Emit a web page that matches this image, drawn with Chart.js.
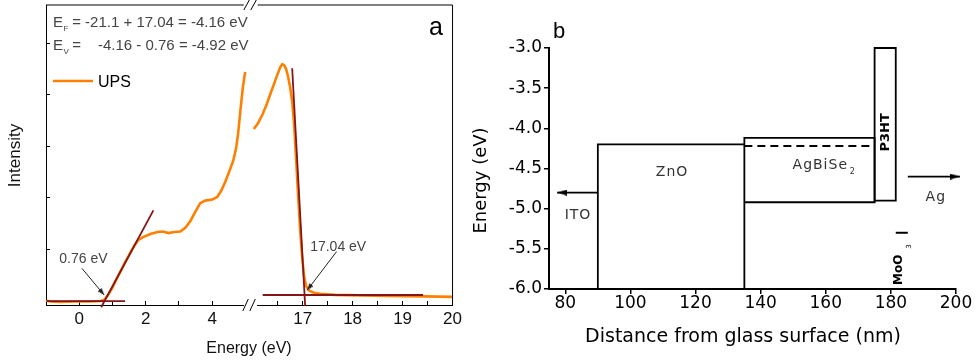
<!DOCTYPE html>
<html lang="en">
<head>
<meta charset="UTF-8">
<script src="https://cdn.jsdelivr.net/npm/chart.js"></script>
<title>UPS spectrum and band diagram</title>
<style>
  body { margin: 0; background: #fff; width: 976px; height: 363px; position: relative; overflow: hidden; }
  canvas { position: absolute; top: 0; }
</style>
</head>
<body>
<canvas id="upsLow" width="470" height="363" style="left:0"></canvas>
<canvas id="upsHigh" width="470" height="363" style="left:0"></canvas>
<canvas id="levels" width="506" height="363" style="left:470px"></canvas>
<script>
// ---- (a) UPS spectrum, split energy axis ----
// valence band onset side
const upsLowEnergy = [-0.99, -0.87, -0.57, -0.12, 0.33, 0.63, 0.75, 0.87, 0.99, 1.11, 1.23, 1.38, 1.53, 1.65,
  1.77, 1.92, 2.14, 2.35, 2.53, 2.68, 2.86, 3.04, 3.19, 3.34, 3.49, 3.64, 3.79, 4.00, 4.15, 4.27, 4.39, 4.51,
  4.63, 4.72, 4.78, 4.84, 4.92, 4.99];
const upsLowIntensity = [0.00, -0.02, -0.03, -0.02, -0.02, -0.01, 0.01, 0.11, 0.24, 0.40, 0.55, 0.74, 0.92, 1.06,
  1.17, 1.23, 1.29, 1.33, 1.34, 1.31, 1.33, 1.34, 1.41, 1.54, 1.72, 1.89, 1.94, 1.96, 2.01, 2.13, 2.30, 2.50,
  2.71, 2.96, 3.25, 3.64, 4.13, 4.44];
// secondary electron cutoff side
const upsHighEnergy = [16.02, 16.10, 16.20, 16.28, 16.36, 16.44, 16.50, 16.55, 16.59, 16.63, 16.67, 16.71, 16.75,
  16.79, 16.83, 16.87, 16.91, 16.95, 16.99, 17.03, 17.07, 17.13, 17.23, 17.35, 17.64, 18.14, 18.73, 19.43, 20.00];
const upsHighIntensity = [3.33, 3.43, 3.62, 3.81, 4.03, 4.24, 4.40, 4.53, 4.59, 4.57, 4.49, 4.34, 4.13,
  3.87, 3.41, 2.73, 2.03, 1.37, 0.84, 0.46, 0.28, 0.19, 0.15, 0.13, 0.11, 0.10, 0.09, 0.08, 0.07];

// linear fits used to read the onset (0.76 eV) and the cutoff (17.04 eV)
const onsetBaseX = [-0.97, 1.38], onsetBaseY = [-0.01, -0.01];
const onsetSlopeX = [0.66, 2.23], onsetSlopeY = [-0.13, 1.75];
const cutoffBaseX = [16.2, 19.41], cutoffBaseY = [0.107, 0.107];
const cutoffSlopeX = [16.79, 17.05], cutoffSlopeY = [4.51, -0.107];
// pointer arrows (tail -> tip)
const onsetArrowX = [0.08, 0.75], onsetArrowY = [0.625, 0.107];
const cutoffArrowX = [17.68, 17.09], cutoffArrowY = [0.95, 0.2];

const lowTicks = [-1, 0, 1, 2, 3, 4];
const highTicks = [16.5, 17, 17.5, 18, 18.5, 19, 19.5, 20];
const intensityTicks = [1, 2, 3, 4, 5];

// ---- (b) energy levels vs distance ----
const znoX = [90, 90, 135], znoY = [-6, -4.2, -4.2];
const absorberX = [135, 135, 175, 175, 135], absorberY = [-6, -4.12, -4.12, -4.92, -4.92];
const p3htX = [175, 175, 181.5, 181.5, 175], p3htY = [-4.92, -3, -3, -4.9, -4.9];
const fermiX = [135, 175], fermiY = [-4.22, -4.22];
const itoX = [90, 77.5], itoY = [-4.8, -4.8];
const agX = [185.2, 201.2], agY = [-4.6, -4.6];
const moo3X = [181.5, 185.2], moo3Y = [-5.3, -5.3];

const energyTicks = [-6, -5.75, -5.5, -5.25, -5, -4.75, -4.5, -4.25, -4, -3.75, -3.5, -3.25, -3];
const distanceTicks = [80, 100, 120, 140, 160, 180, 200];

const ARIAL = 'Arial, "Liberation Sans", sans-serif';
const DEJAVU = '"DejaVu Sans", sans-serif';
const ORANGE = '#ff8000';
const FIT_RED = '#861515';

const pairs = (xs, ys) => xs.map((x, i) => ({x, y: ys[i]}));

function arrowHead(len, half, color) {
  // tip sits on the canvas centre so the data point is the arrow tip
  const c = document.createElement('canvas');
  c.width = len * 2; c.height = half * 2;
  const g = c.getContext('2d');
  g.fillStyle = color;
  g.beginPath();
  g.moveTo(0, 0); g.lineTo(len, half); g.lineTo(0, half * 2);
  g.closePath(); g.fill();
  return c;
}

function arrowAngle(c) {
  const pts = c.chart.data.datasets[c.datasetIndex].data;
  const sx = c.chart.scales.x, sy = c.chart.scales.y;
  const a = pts[0], b = pts[pts.length - 1];
  return Math.atan2(sy.getPixelForValue(b.y) - sy.getPixelForValue(a.y),
                    sx.getPixelForValue(b.x) - sx.getPixelForValue(a.x)) * 180 / Math.PI;
}

function line(xs, ys, color, width, extra) {
  return Object.assign({
    data: pairs(xs, ys), borderColor: color, borderWidth: width,
    pointRadius: 0, tension: 0, clip: false, borderJoinStyle: 'miter'
  }, extra || {});
}

function arrow(xs, ys, color, width, head) {
  return line(xs, ys, color, width, {
    pointRadius: [0, 4], pointStyle: head, pointRotation: arrowAngle, pointBorderWidth: 0
  });
}

function text(ctx, str, x, y, font, o) {
  o = o || {};
  ctx.save();
  ctx.font = font;
  ctx.fillStyle = o.color || '#000';
  ctx.textAlign = o.align || 'left';
  ctx.textBaseline = o.baseline || 'alphabetic';
  if (o.spacing) ctx.letterSpacing = o.spacing + 'px';
  ctx.translate(x, y);
  if (o.rotate) ctx.rotate(o.rotate);
  ctx.fillText(str, 0, 0);
  ctx.restore();
}

function stroke(ctx, pts, width, color) {
  ctx.save();
  ctx.strokeStyle = color || '#000';
  ctx.lineWidth = width;
  ctx.beginPath();
  pts.forEach((p, i) => i ? ctx.lineTo(p[0], p[1]) : ctx.moveTo(p[0], p[1]));
  ctx.stroke();
  ctx.restore();
}

const smallHead = arrowHead(7, 2.5, '#222');
const bigHead = arrowHead(10, 3, '#000');

function frameScales(min, max, ticks, labelOf, yWidth) {
  return {
    x: {
      type: 'linear', min: min, max: max,
      afterBuildTicks: s => { s.ticks = ticks.map(v => ({value: v})); },
      afterFit: s => { s.height = 58; },
      ticks: { callback: labelOf, autoSkip: false, maxRotation: 0, padding: 8,
               color: '#111', font: { family: ARIAL, size: 17 } },
      grid: { drawOnChartArea: false, tickLength: -4, color: '#000', lineWidth: 1 },
      border: { color: '#000', width: 1 }
    },
    y: {
      display: yWidth > 0,
      min: -0.087, max: 5.738,
      afterBuildTicks: s => { s.ticks = intensityTicks.map(v => ({value: v})); },
      afterFit: s => { s.width = yWidth; },
      ticks: { display: false },
      grid: { drawOnChartArea: false, tickLength: -4, color: '#000', lineWidth: 1 },
      border: { color: '#000', width: 1 }
    }
  };
}

const common = {
  responsive: false, animation: false, devicePixelRatio: 1,
  plugins: { legend: { display: false }, tooltip: { enabled: false } }
};

// left half of panel a, also carries the panel texts
new Chart(document.getElementById('upsLow'), {
  type: 'line',
  data: {
    datasets: [
      arrow(onsetArrowX, onsetArrowY, '#222', 1, smallHead),
      line(onsetSlopeX, onsetSlopeY, FIT_RED, 1.8),
      line(onsetBaseX, onsetBaseY, FIT_RED, 1.8),
      line(upsLowEnergy, upsLowIntensity, ORANGE, 2.6)
    ]
  },
  options: Object.assign({}, common, {
    layout: { padding: { left: 0, top: 5, right: 470 - 243.8, bottom: 0 } },
    scales: frameScales(-1, 4.95, lowTicks, v => (v % 2 === 0 ? String(v) : ''), 46)
  }),
  plugins: [{
    id: 'panelA',
    afterDraw(chart) {
      const ctx = chart.ctx, a = chart.chartArea;
      stroke(ctx, [[a.left, a.top], [a.right, a.top]], 1);
      // axis break marks
      [0, 7].forEach(o => {
        stroke(ctx, [[a.right + o, a.top + 5], [a.right + o + 5.5, a.top - 5]], 1);
        stroke(ctx, [[a.right + o - 1, a.bottom + 6], [a.right + o + 4.5, a.bottom - 6]], 1);
      });
      const gray = '#444';
      text(ctx, 'E', 53, 27, '15px ' + ARIAL, {color: gray});
      text(ctx, 'F', 63.5, 31, '8px ' + ARIAL, {color: gray});
      text(ctx, ' = -21.1 + 17.04 = -4.16 eV', 68, 27, '15px ' + ARIAL, {color: gray});
      text(ctx, 'E', 53, 50, '15px ' + ARIAL, {color: gray});
      text(ctx, 'V', 63.5, 54, '8px ' + ARIAL, {color: gray});
      text(ctx, ' =', 68, 50, '15px ' + ARIAL, {color: gray});
      text(ctx, '-4.16 - 0.76 = -4.92 eV', 98, 50, '15px ' + ARIAL, {color: gray});
      stroke(ctx, [[53, 81], [93, 81]], 2.6, ORANGE);
      text(ctx, 'UPS', 98, 87, '16px ' + ARIAL);
      text(ctx, 'a', 429, 35, '25px ' + ARIAL);
      text(ctx, 'Energy (eV)', 249, 353, '16px ' + ARIAL, {align: 'center', color: '#111'});
      text(ctx, 'Intensity', 20, 155.5, '17px ' + ARIAL, {align: 'center', color: '#111', rotate: -Math.PI / 2});
      const sx = chart.scales.x, sy = chart.scales.y;
      text(ctx, '0.76 eV', sx.getPixelForValue(-0.6), sy.getPixelForValue(0.73), '14px ' + ARIAL, {color: gray});
    }
  }]
});

// right half of panel a
new Chart(document.getElementById('upsHigh'), {
  type: 'line',
  data: {
    datasets: [
      arrow(cutoffArrowX, cutoffArrowY, '#222', 1, smallHead),
      line(cutoffSlopeX, cutoffSlopeY, FIT_RED, 1.8),
      line(cutoffBaseX, cutoffBaseY, FIT_RED, 1.8),
      line(upsHighEnergy, upsHighIntensity, ORANGE, 2.6)
    ]
  },
  options: Object.assign({}, common, {
    layout: { padding: { left: 257.7, top: 5, right: 16, bottom: 0 } },
    scales: frameScales(16.1, 20, highTicks, v => (Number.isInteger(v) ? String(v) : ''), 0)
  }),
  plugins: [{
    id: 'panelAright',
    afterDraw(chart) {
      const ctx = chart.ctx, a = chart.chartArea;
      stroke(ctx, [[a.left, a.top], [a.right, a.top], [a.right, a.bottom]], 1);
      const sx = chart.scales.x, sy = chart.scales.y;
      text(ctx, '17.04 eV', sx.getPixelForValue(17.15), sy.getPixelForValue(0.97), '14px ' + ARIAL, {color: '#444'});
    }
  }]
});

// panel b
new Chart(document.getElementById('levels'), {
  type: 'line',
  data: {
    datasets: [
      line(znoX, znoY, '#000', 1.8),
      line(absorberX, absorberY, '#000', 1.8),
      line(p3htX, p3htY, '#000', 1.8),
      line(fermiX, fermiY, '#000', 1.8, { borderDash: [8, 5] }),
      arrow(itoX, itoY, '#000', 1.8, bigHead),
      arrow(agX, agY, '#000', 1.8, bigHead),
      line(moo3X, moo3Y, '#000', 2)
    ]
  },
  options: Object.assign({}, common, {
    layout: { padding: { left: 0, top: 48, right: 20, bottom: 0 } },
    scales: {
      x: {
        type: 'linear', min: 75, max: 200,
        afterBuildTicks: s => { s.ticks = distanceTicks.map(v => ({value: v})); },
        afterFit: s => { s.height = 74; },
        ticks: { autoSkip: false, maxRotation: 0, padding: -1, color: '#000', font: { family: DEJAVU, size: 17 } },
        grid: { drawOnChartArea: false, tickLength: 5, color: '#000', lineWidth: 1.5 },
        border: { color: '#000', width: 2 }
      },
      y: {
        min: -6, max: -3,
        afterBuildTicks: s => { s.ticks = energyTicks.map(v => ({value: v})); },
        afterFit: s => { s.width = 79; },
        ticks: { padding: 2, color: '#000', font: { family: DEJAVU, size: 17 },
                 callback: v => (Number.isInteger(v * 2) ? v.toFixed(1) : '') },
        grid: { drawOnChartArea: false, tickLength: 5, color: '#000', lineWidth: 1.5 },
        border: { color: '#000', width: 2 }
      }
    }
  }),
  plugins: [{
    id: 'panelB',
    afterDraw(chart) {
      const ctx = chart.ctx;
      const px = v => chart.scales.x.getPixelForValue(v);
      const py = v => chart.scales.y.getPixelForValue(v);
      const f = '14px ' + DEJAVU, soft = '#333';
      text(ctx, 'b', 83, 38, '22px ' + ARIAL);
      text(ctx, 'Energy (eV)', 11, 180.5, '18px ' + DEJAVU, {align: 'center', baseline: 'middle', rotate: -Math.PI / 2});
      text(ctx, 'Distance from glass surface (nm)', 273, 342, '19px ' + DEJAVU, {align: 'center'});
      text(ctx, 'ITO', px(83.9), py(-5.125), f, {align: 'center', color: soft, spacing: 1});
      text(ctx, 'ZnO', px(112.8), py(-4.59), f, {align: 'center', color: soft, spacing: 1});
      text(ctx, 'AgBiSe', px(149.8), py(-4.51), f, {color: soft, spacing: 1});
      text(ctx, '2', px(167.4), py(-4.57), '8px ' + DEJAVU, {color: soft});
      text(ctx, 'Ag', px(193.8), py(-4.91), f, {align: 'center', color: soft, spacing: 1});
      text(ctx, 'P3HT', px(178.4), py(-4.05), 'bold 13px ' + DEJAVU, {align: 'center', baseline: 'middle', rotate: -Math.PI / 2});
      text(ctx, 'MoO', px(182.6), py(-5.76), 'bold 12px ' + DEJAVU, {align: 'center', baseline: 'middle', rotate: -Math.PI / 2});
      text(ctx, '3', px(185.6), py(-5.47), '7px ' + DEJAVU, {align: 'center', baseline: 'middle', rotate: -Math.PI / 2});
    }
  }]
});
</script>
</body>
</html>
